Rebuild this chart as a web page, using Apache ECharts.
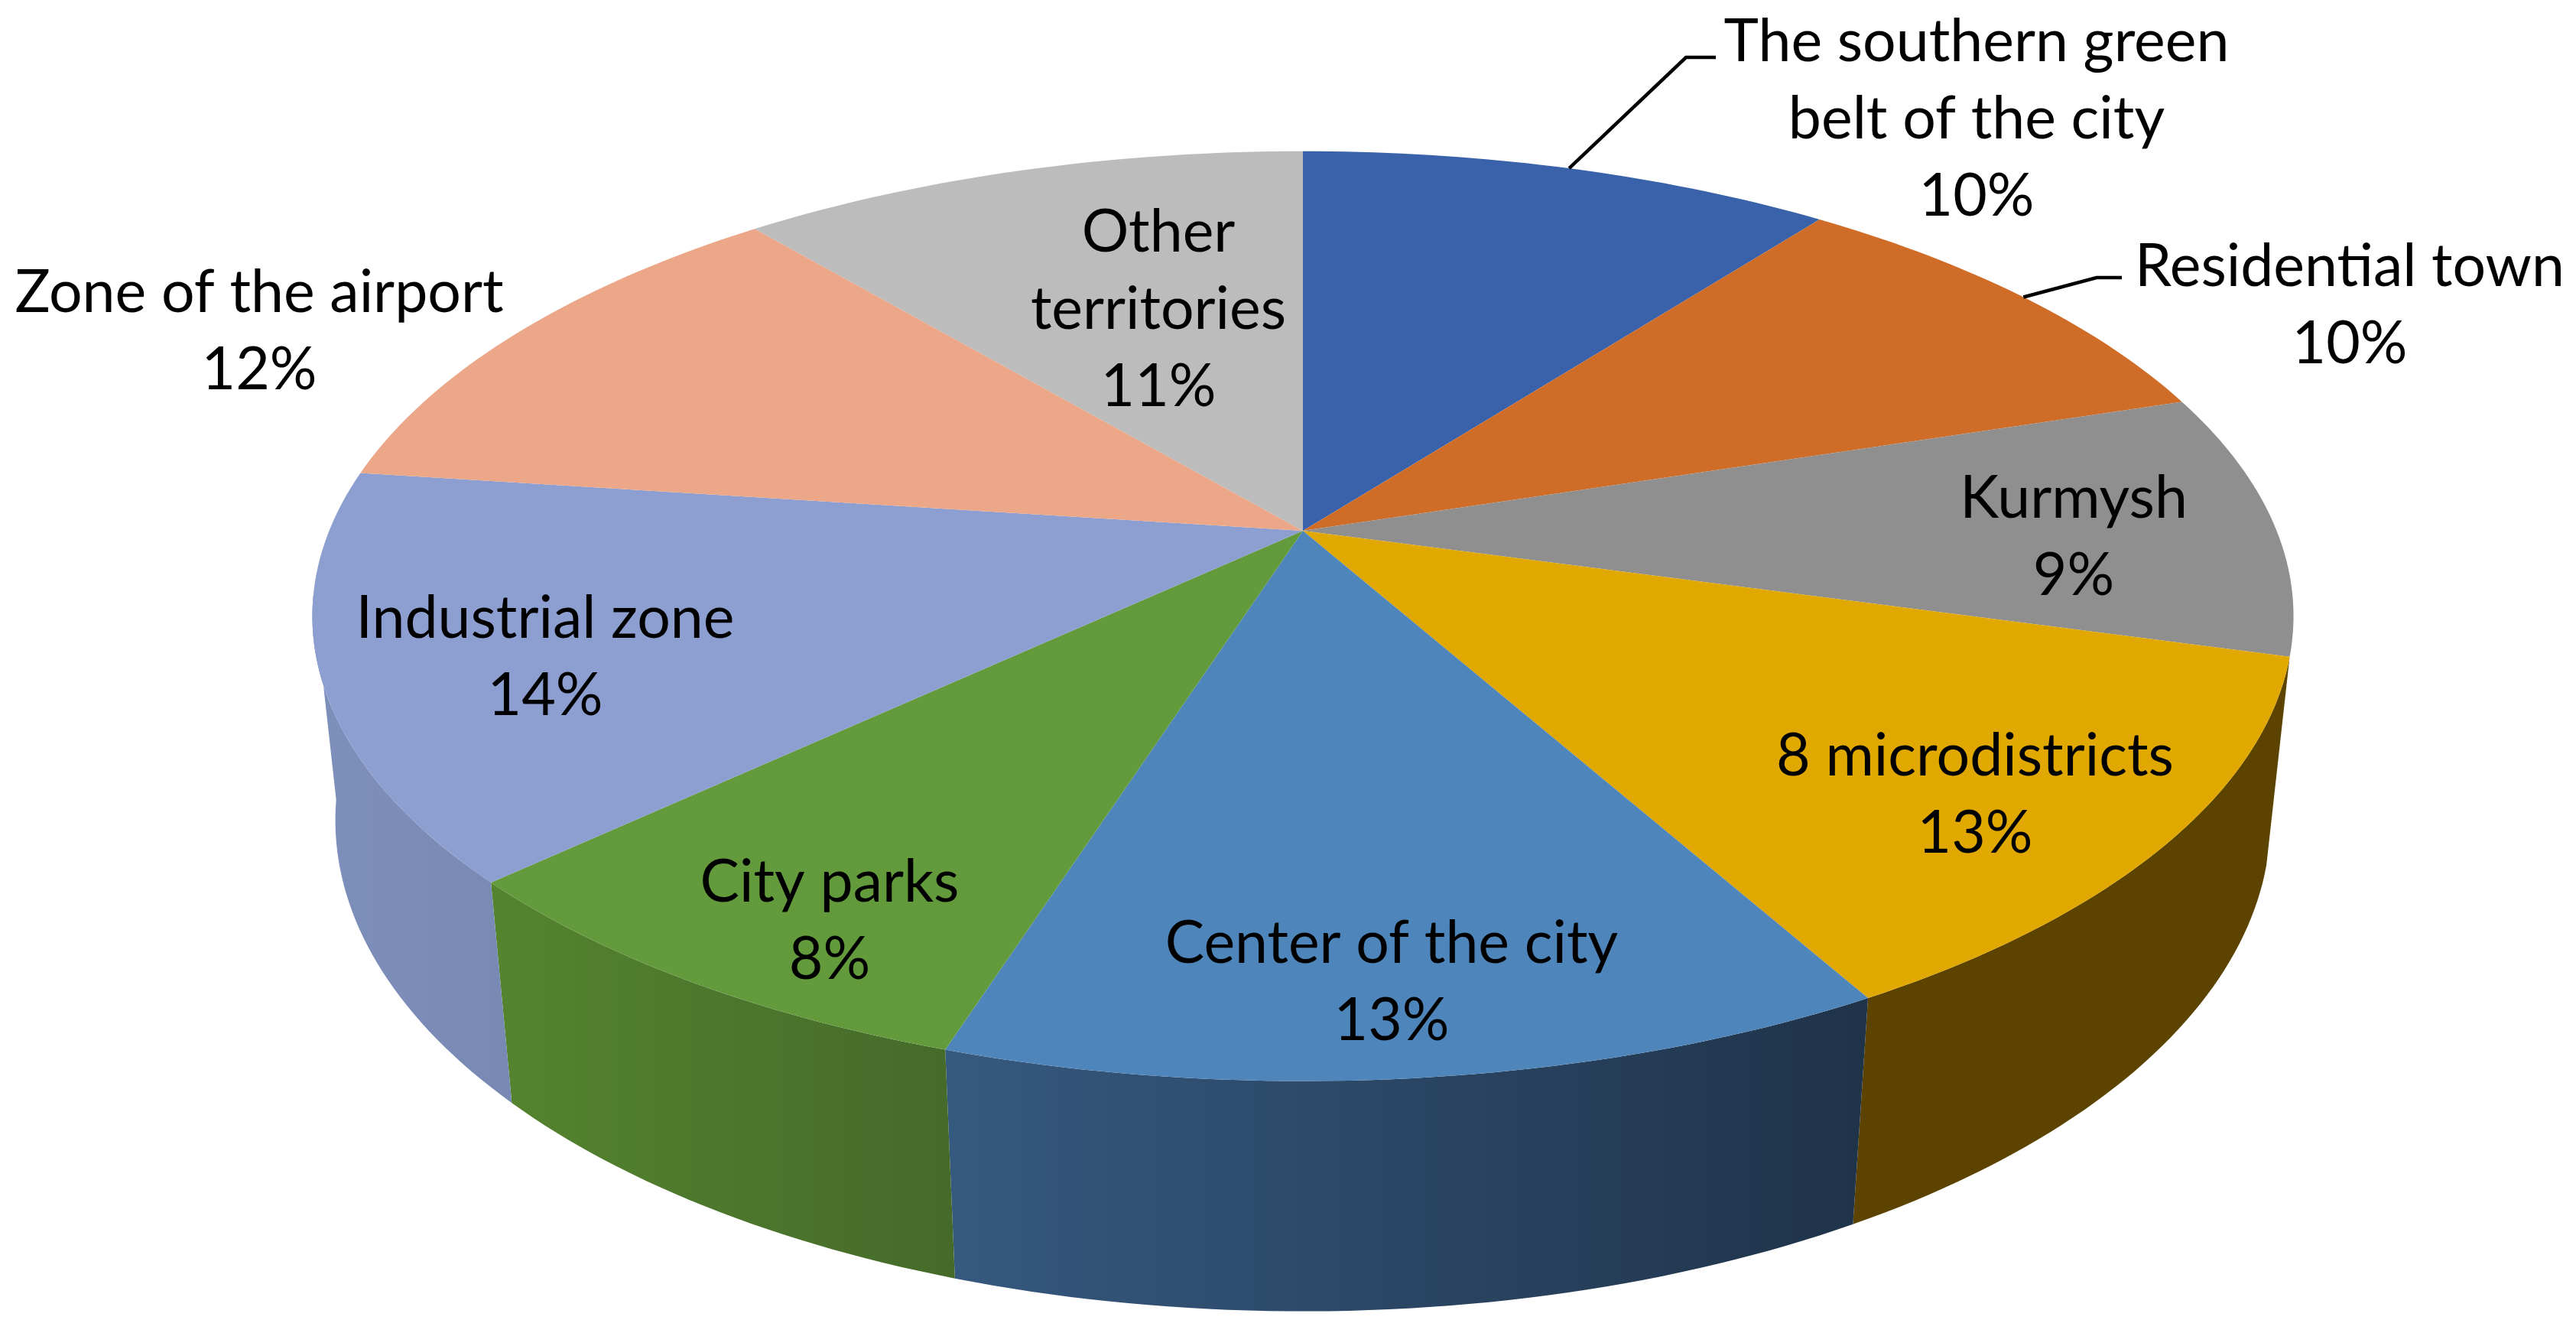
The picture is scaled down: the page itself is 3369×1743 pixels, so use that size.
<!DOCTYPE html>
<html>
<head>
<meta charset="utf-8">
<title>City zones</title>
<style>
  html, body { margin: 0; padding: 0; background: #fff; }
  #chart { width: 3369px; height: 1743px; }
</style>
<script src="https://cdn.jsdelivr.net/npm/echarts@6/dist/echarts.min.js"></script>
</head>
<body>
<div id="chart"></div>
<script>
// values, the labels show them rounded
const names = ['The southern green\nbelt of the city', 'Residential town', 'Kurmysh', '8 microdistricts',
  'Center of the city', 'City parks', 'Industrial zone', 'Zone of the airport', 'Other\nterritories'];
const shares = [10.4, 9.7, 9.2, 12.6, 13.0, 8.1, 14.1, 11.8, 11.1];

const topColors = ['#3a62aa', '#cf6c27', '#8f8f8f', '#e0a800', '#4e86bb', '#629a3c', '#8d9ed0', '#eca688', '#bcbcbc'];
// left and right colour of the outer wall, null where the wall can't be seen
const wallColors = [null, null, null, ['#5c4300', '#5c4300'], ['#36597f', '#1f3349'], ['#55842f', '#456a2a'],
  ['#7d8fbb', '#7889b3'], null, null];

// label centres and leader elbows, in page pixels
const labelSpots = [[2585, 156], [3073, 400], [2712, 703], [2583, 1040], [1820, 1285], [1085, 1205], [713, 860], [339, 434], [1515, 405]];
const leaderElbows = { 0: [[2205, 75], [2244, 75]], 1: [[2742, 363], [2775, 363]] };

// perspective of the disc, fitted on the picture
const CX = 1704, CY = 694, RX = 1273.5, RY = 587.4, TILT = 0.1837, SINK = 0.023, DEPTH = 269.2;
// the wall turns away from the viewer past this angle
const WALL_END = 262;

function project(deg, bottom) {
  const a = deg * Math.PI / 180;
  const x = Math.sin(a), y = Math.cos(a);
  const d = 1 + TILT * y + (bottom ? SINK : 0);
  return [CX + RX * x / d, CY + (-RY * y + (bottom ? DEPTH : 0)) / d];
}

function arc(from, to, bottom) {
  const pts = [];
  const n = Math.ceil(Math.abs(to - from));
  for (let i = 0; i <= n; i++) {
    pts.push(project(from + (to - from) * i / n, bottom));
  }
  return pts;
}

const total = shares.reduce((a, b) => a + b, 0);
let acc = 0;
const rows = shares.map((v, i) => {
  const row = [i, acc / total * 360, (acc + v) / total * 360];
  acc += v;
  return row;
});

function renderWall(params, api) {
  const i = api.value(0);
  const c = wallColors[i];
  if (!c) return null;
  const a0 = api.value(1), a1 = Math.min(api.value(2), WALL_END);
  return {
    type: 'polygon',
    shape: { points: arc(a0, a1, false).concat(arc(a1, a0, true)) },
    style: { fill: new echarts.graphic.LinearGradient(0, 0, 1, 0, [{ offset: 0, color: c[0] }, { offset: 1, color: c[1] }]) }
  };
}

function renderTop(params, api) {
  const i = api.value(0);
  const a0 = api.value(1), a1 = api.value(2);
  return {
    type: 'polygon',
    shape: { points: [[CX, CY]].concat(arc(a0, a1, false)) },
    style: { fill: topColors[i] }
  };
}

function renderLabel(params, api) {
  const i = api.value(0);
  const children = [{
    type: 'text',
    style: {
      x: labelSpots[i][0],
      y: labelSpots[i][1],
      text: names[i] + '\n' + Math.round(shares[i]) + '%',
      fill: '#000',
      font: '77px Lato',
      lineHeight: 101,
      align: 'center',
      verticalAlign: 'middle'
    }
  }];
  if (leaderElbows[i]) {
    const start = project((api.value(1) + api.value(2)) / 2, false);
    children.push({
      type: 'polyline',
      shape: { points: [start].concat(leaderElbows[i]) },
      style: { stroke: '#000', lineWidth: 4.5, fill: null }
    });
  }
  return { type: 'group', children: children };
}

const myChart = echarts.init(document.getElementById('chart'));
myChart.setOption({
  backgroundColor: '#fff',
  animation: false,
  tooltip: { show: false },
  series: [
    { type: 'custom', name: 'walls', coordinateSystem: 'none', silent: true, z: 1, renderItem: renderWall, data: rows },
    { type: 'custom', name: 'slices', coordinateSystem: 'none', silent: true, z: 2, renderItem: renderTop, data: rows },
    { type: 'custom', name: 'labels', coordinateSystem: 'none', silent: true, z: 3, renderItem: renderLabel, data: rows }
  ]
});
</script>
</body>
</html>
